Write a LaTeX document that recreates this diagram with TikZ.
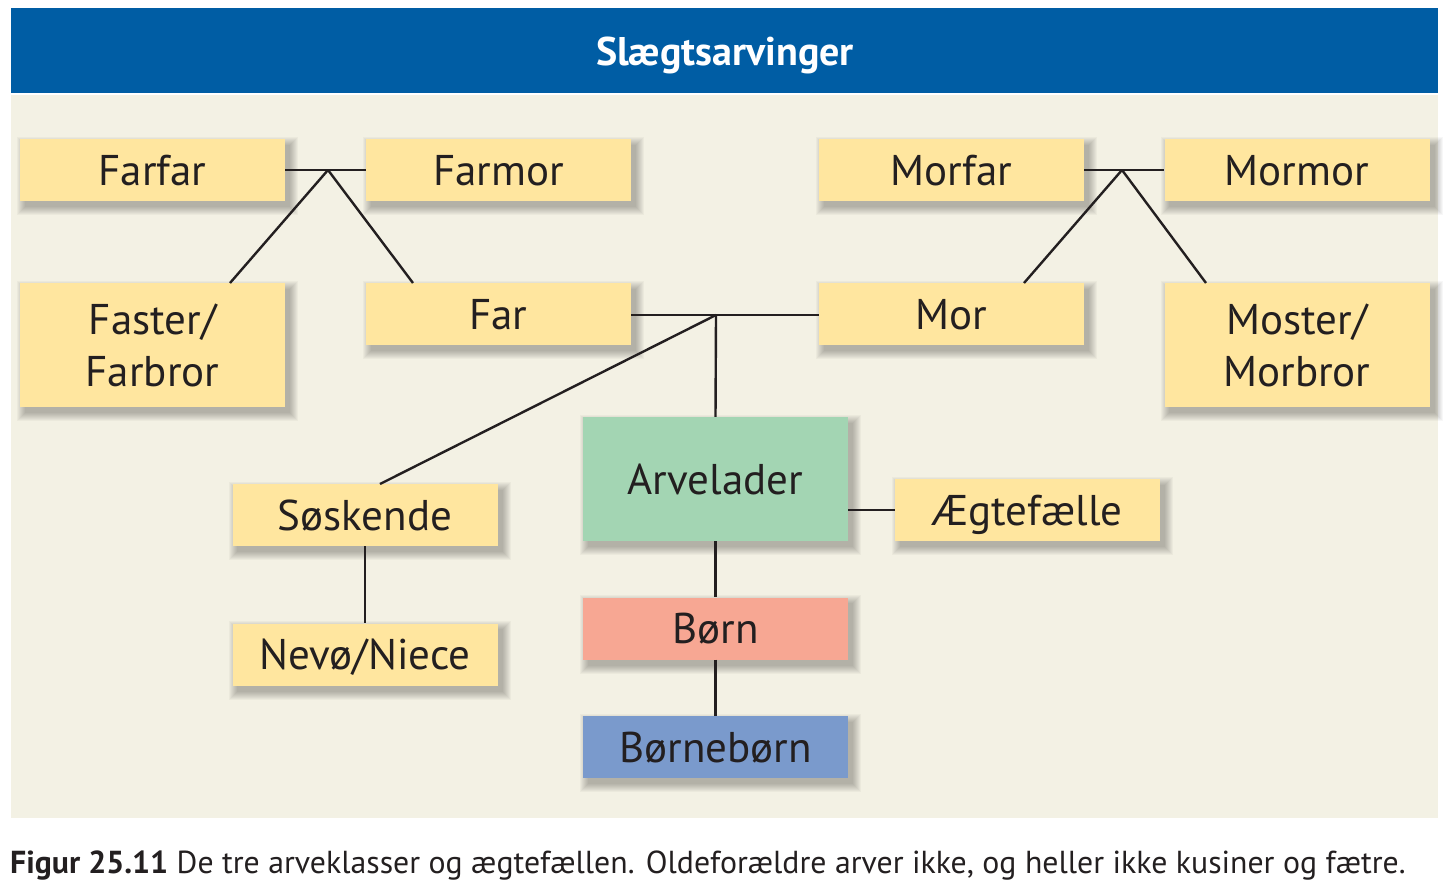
\documentclass[tikz,border=0pt]{standalone}
\usepackage{fontspec}
\setmainfont{PT Sans}
\definecolor{hdrblue}{HTML}{005DA4}
\definecolor{bgbeige}{HTML}{F3F1E4}
\definecolor{ylw}{HTML}{FFE69F}
\definecolor{grn}{HTML}{A3D5B3}
\definecolor{sal}{HTML}{F7A793}
\definecolor{blu}{HTML}{7A9ACC}
\definecolor{ink}{HTML}{231F20}
\pgfdeclarelayer{bgzero}
\pgfdeclarelayer{background}
\pgfsetlayers{bgzero,background,main}
\tikzset{
  famBox/.style={draw=none, fill=ylw, minimum width=265pt, minimum height=62pt,
    inner sep=0pt, align=center, font=\fontsize{43}{52}\selectfont, text=ink,
    text height=30pt, text depth=0pt},
  tallBox/.style={famBox, minimum height=124pt},
  twoLine/.style={text height=82pt, text depth=0pt},
  conn/.style={draw=ink, line width=2.4pt},
  shadowPiece/.style={fill=black, fill opacity=0.03, draw=none},
}
\newcommand\softShadow[1]{%
  \begin{pgfonlayer}{background}
  \foreach \r in {0,1,...,8}{%
    \fill[shadowPiece] ([shift={(5-\r,6-\r)}]#1.north west) rectangle ([shift={(5+\r,6+\r)}]#1.south east);
  }%
  \end{pgfonlayer}}
\begin{document}
\begin{tikzpicture}[x=1pt,y=-1pt]
\useasboundingbox (0,0) rectangle (1453,895);
\begin{pgfonlayer}{bgzero}
\fill[white] (0,0) rectangle (1453,895);
\fill[hdrblue] (11,8) rectangle (1438,93);
\fill[bgbeige] (11,95) rectangle (1438,818);
\end{pgfonlayer}
\node[anchor=base, text=white, font=\bfseries\fontsize{40}{48}\selectfont] (title) at (725,65) {Slægtsarvinger};

\node[famBox] (farfar) at (152.5,170) {Farfar};
\node[famBox] (farmor) at (498.5,170) {Farmor};
\node[famBox] (morfar) at (951.5,170) {Morfar};
\node[famBox] (mormor) at (1297,170) {Mormor};
\node[tallBox, twoLine] (faster) at (152.5,345) {Faster/\\Farbror};
\node[famBox] (far) at (498.5,314) {Far};
\node[famBox] (mor) at (951.5,314) {Mor};
\node[tallBox, twoLine] (moster) at (1297,345) {Moster/\\Morbror};
\node[tallBox, fill=grn] (arv) at (715.5,479) {Arvelader};
\node[famBox] (sosk) at (365,515) {Søskende};
\node[famBox] (aegt) at (1027.5,510) {Ægtefælle};
\node[famBox] (nevo) at (365,654.5) {Nevø/Niece};
\node[famBox, fill=sal] (born) at (715.5,628.5) {Børn};
\node[famBox, fill=blu] (bb) at (715.5,747) {Børnebørn};

\foreach \n in {farfar,farmor,morfar,mormor,faster,far,mor,moster,arv,sosk,aegt,nevo,born,bb}{\softShadow{\n}}

\coordinate (j1) at (328,170);
\coordinate (j2) at (1122,170);
\coordinate (j3) at (716,315);
\coordinate (e1) at (230,283);
\coordinate (e2) at (413,283);
\coordinate (e3) at (1024,283);
\coordinate (e4) at (1206,283);
\coordinate (e5) at (380,484);

\draw[conn] (farfar.east) -- (farmor.west);
\draw[conn] (j1) -- (e1);
\draw[conn] (j1) -- (e2);
\draw[conn] (morfar.east) -- (mormor.west);
\draw[conn] (j2) -- (e3);
\draw[conn] (j2) -- (e4);
\draw[conn] (far.east |- j3) -- (mor.west |- j3);
\draw[conn] (j3) -- (arv.north);
\draw[conn] (j3) -- (e5);
\draw[conn] (arv.east |- aegt.west) -- (aegt.west);
\draw[conn] (arv.south) -- (born.north);
\draw[conn] (born.south) -- (bb.north);
\draw[conn] (sosk.south) -- (nevo.north);

\node[anchor=base west, inner sep=0pt, text=ink, font=\fontsize{31.8}{36}\selectfont] (cap) at (10,873)
  {\textbf{Figur 25.11} De tre arveklasser og ægtefællen. Oldeforældre arver ikke, og heller ikke kusiner og fætre.};
\end{tikzpicture}
\end{document}
